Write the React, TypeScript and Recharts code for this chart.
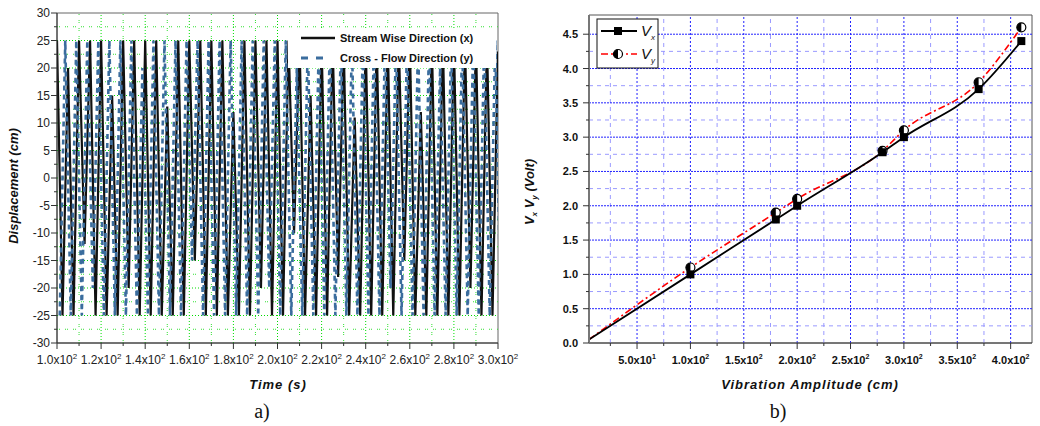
import React from "react";
import { LineChart, Line, XAxis, YAxis, ReferenceLine, ReferenceArea } from "recharts";

// ---- panel a) displacement time history (one value per half cycle) ----
const TIME_START = 100;
const TIME_END = 300;
const CROSS_OFFSET = 1.25; // cross-flow peaks sit between the stream-wise ones

const streamWise = [
  25, -25, 20, -25, 25, -12, 25, -25, 25, -25,
  15, -25, 25, -20, 25, -25, 25, -25, 25, -25,
  13, -25, 25, -25, 25, -15, 25, -25, 25, -25,
  25, -25, 12, -25, 25, -25, 25, -20, 25, -25,
  25, -25, 25, -10, 25, -25, 15, -25, 25, -25,
  25, -18, 25, -25, 11, -25, 25, -25, 25, -25,
  25, -25, 25, -15, 25, -25, 12, -25, 25, -25,
  25, -25, 25, -25, 25, -20, 25, -25, 25, -25,
  23,
];
const crossFlow = [
  -25, 25, -25, 25, -25, 25, -20, 25, -25, 25,
  -25, 25, -25, 25, -25, 20, -25, 25, -25, 25,
  -25, 25, -25, 25, -15, 25, -25, 25, -25, 25,
  -25, 25, -25, 25, -25, 25, -25, 25, -20, 25,
  -25, 25, -25, 20, -25, 25, -25, 25, -25, 25,
  -25, 25, -25, 25, -25, 25, -25, 25, -25, 25,
  -20, 25, -25, 25, -25, 25, -25, 25, -25, 20,
  -25, 25, -25, 25, -25, 25, -25, 25, -25, 25,
  -25,
];
const timeTicks = [100, 110, 120, 130, 140, 150, 160, 170, 180, 190, 200, 210, 220, 230, 240, 250, 260, 270, 280, 290, 300];
const dispTicks = [-30, -27.5, -25, -22.5, -20, -17.5, -15, -12.5, -10, -7.5, -5, -2.5, 0, 2.5, 5, 7.5, 10, 12.5, 15, 17.5, 20, 22.5, 25, 27.5, 30];

// ---- panel b) sensor voltage vs vibration amplitude ----
const amplitude = [5, 100, 180, 200, 280, 300, 370, 410];
const vx = [0.05, 1.0, 1.8, 2.0, 2.78, 3.0, 3.7, 4.4];
const vy = [0.05, 1.1, 1.9, 2.1, 2.8, 3.1, 3.8, 4.6];
const ampTicks = [25, 50, 75, 100, 125, 150, 175, 200, 225, 250, 275, 300, 325, 350, 375, 400];
const voltTicks = [0, 0.25, 0.5, 0.75, 1, 1.25, 1.5, 1.75, 2, 2.25, 2.5, 2.75, 3, 3.25, 3.5, 3.75, 4, 4.25, 4.5];

const step = (TIME_END - TIME_START) / (streamWise.length - 1);
const streamData = streamWise.map((v, i) => ({ t: TIME_START + i * step, v }));
const crossData = crossFlow.map((v, i) => ({ t: TIME_START + CROSS_OFFSET + i * step, v }));
const voltData = amplitude.map((a, i) => ({ a, vx: vx[i], vy: vy[i] }));

const SANS = "Arial, 'Liberation Sans', sans-serif";

function TimeTick({ x, y, payload }: any) {
  const v = payload.value as number;
  const major = v % 20 === 0;
  return (
    <g>
      <line x1={x} x2={x} y1={y} y2={y + (major ? 6 : 3)} stroke="#333" />
      {major && (
        <text x={x} y={y + 21} textAnchor="middle" fontSize={12} fill="#222" fontFamily={SANS}>
          {(v / 100).toFixed(1)}x10<tspan dy={-5} fontSize={8}>2</tspan>
        </text>
      )}
    </g>
  );
}

function DispTick({ x, y, payload }: any) {
  const v = payload.value as number;
  const major = v % 5 === 0;
  return (
    <g>
      <line x1={x} x2={x - (major ? 6 : 3)} y1={y} y2={y} stroke="#333" />
      {major && (
        <text x={x - 7} y={y + 4} textAnchor="end" fontSize={12} fill="#222" fontFamily={SANS}>
          {v}
        </text>
      )}
    </g>
  );
}

function AmpTick({ x, y, payload }: any) {
  const v = payload.value as number;
  const major = v % 50 === 0;
  const exp = v < 100 ? 1 : 2;
  const mant = v < 100 ? v / 10 : v / 100;
  return (
    <g>
      <line x1={x} x2={x} y1={y} y2={y + (major ? 6 : 3)} stroke="#333" />
      {major && (
        <text x={x} y={y + 21} textAnchor="middle" fontSize={11} fontWeight="bold" fill="#111" fontFamily={SANS}>
          {mant.toFixed(1)}x10<tspan dy={-5} fontSize={7}>{exp}</tspan>
        </text>
      )}
    </g>
  );
}

function VoltTick({ x, y, payload }: any) {
  const v = payload.value as number;
  const major = Math.abs(v * 2 - Math.round(v * 2)) < 1e-6;
  return (
    <g>
      <line x1={x} x2={x - (major ? 6 : 3)} y1={y} y2={y} stroke="#333" />
      {major && (
        <text x={x - 11} y={y + 4} textAnchor="end" fontSize={11} fontWeight="bold" fill="#111" fontFamily={SANS}>
          {v.toFixed(1)}
        </text>
      )}
    </g>
  );
}

function SquareDot(props: any) {
  const { cx, cy, index } = props;
  if (index === 0 || cx == null) return <g key={`s${index}`} />;
  return <rect key={`s${index}`} x={cx - 4} y={cy - 4} width={8} height={8} fill="#000" />;
}

function HalfCircleDot(props: any) {
  const { cx, cy, index } = props;
  if (index === 0 || cx == null) return <g key={`c${index}`} />;
  const r = 4.5;
  return (
    <g key={`c${index}`}>
      <circle cx={cx} cy={cy} r={r} fill="#fff" stroke="#000" strokeWidth={1.2} />
      <path d={`M${cx},${cy - r} A${r},${r} 0 0,0 ${cx},${cy + r} Z`} fill="#000" />
    </g>
  );
}

const isHalf = (v: number) => Math.abs(v * 2 - Math.round(v * 2)) < 1e-6;

export default function App() {
  return (
    <div style={{ position: "absolute", left: 0, top: 0, width: 1040, height: 426, background: "#fff", fontFamily: SANS }}>
      {/* a) */}
      <div style={{ position: "absolute", left: 0, top: 0 }}>
        <LineChart width={520} height={426} margin={{ top: 13, right: 22, bottom: 0, left: 0 }}>
          <XAxis
            type="number"
            dataKey="t"
            domain={[TIME_START, TIME_END]}
            allowDataOverflow
            ticks={timeTicks}
            interval={0}
            tickSize={0}
            tickMargin={0}
            tick={<TimeTick />}
            height={83}
            stroke="#333"
          />
          <YAxis
            type="number"
            domain={[-30, 30]}
            ticks={dispTicks}
            interval={0}
            tickSize={0}
            tickMargin={0}
            tick={<DispTick />}
            width={57}
            stroke="#333"
          />
          {timeTicks.slice(1, -1).map((t) => (
            <ReferenceLine
              key={`gx${t}`}
              x={t}
              stroke={t % 20 === 0 ? "#00dd00" : "#33e033"}
              strokeDasharray={t % 20 === 0 ? "1 2" : "1 1 1 5"}
            />
          ))}
          {dispTicks.slice(1, -1).map((d) => (
            <ReferenceLine
              key={`gy${d}`}
              y={d}
              stroke={d % 5 === 0 ? "#00dd00" : "#33e033"}
              strokeDasharray={d % 5 === 0 ? "1 2" : "1 1 1 5"}
            />
          ))}
          <Line
            data={streamData}
            dataKey="v"
            type="linear"
            stroke="#111"
            strokeWidth={2.2}
            dot={false}
            isAnimationActive={false}
          />
          <Line
            data={crossData}
            dataKey="v"
            type="linear"
            stroke="#3b6d9e"
            strokeWidth={2.6}
            strokeDasharray="5 4"
            dot={false}
            isAnimationActive={false}
          />
          <ReferenceArea x1={TIME_START} x2={TIME_END} y1={-30} y2={30} fill="none" stroke="#666" />
        </LineChart>
      </div>

      {/* b) */}
      <div style={{ position: "absolute", left: 520, top: 0 }}>
        <LineChart width={520} height={426} data={voltData} margin={{ top: 15, right: 8, bottom: 0, left: 0 }}>
          <XAxis
            type="number"
            dataKey="a"
            domain={[5, 420]}
            allowDataOverflow
            ticks={ampTicks}
            interval={0}
            tickSize={0}
            tickMargin={0}
            tick={<AmpTick />}
            height={83}
            stroke="#444"
          />
          <YAxis
            type="number"
            domain={[0, 4.78]}
            allowDataOverflow
            ticks={voltTicks}
            interval={0}
            tickSize={0}
            tickMargin={0}
            tick={<VoltTick />}
            width={69}
            stroke="#777"
            strokeWidth={2}
          />
          {ampTicks.map((a) => (
            <ReferenceLine
              key={`bx${a}`}
              x={a}
              stroke={a % 50 === 0 ? "#2222ff" : "#9a9aff"}
              strokeDasharray={a % 50 === 0 ? "2 2" : "4 4"}
            />
          ))}
          {voltTicks.slice(1).map((v) => (
            <ReferenceLine
              key={`by${v}`}
              y={v}
              stroke={isHalf(v) ? "#2222ff" : "#9a9aff"}
              strokeDasharray={isHalf(v) ? "2 1" : "4 4"}
            />
          ))}
          <Line
            dataKey="vy"
            type="monotone"
            stroke="#ff0000"
            strokeWidth={1.6}
            strokeDasharray="7 3 2 3"
            dot={<HalfCircleDot />}
            isAnimationActive={false}
          />
          <Line
            dataKey="vx"
            type="monotone"
            stroke="#000"
            strokeWidth={1.8}
            dot={<SquareDot />}
            isAnimationActive={false}
          />
          <ReferenceArea x1={5} x2={420} y1={0} y2={4.78} fill="none" stroke="#555" />
        </LineChart>
      </div>

      {/* titles and legends */}
      <svg width={1040} height={426} style={{ position: "absolute", left: 0, top: 0, pointerEvents: "none" }}>
        <g fontFamily={SANS}>
          <rect x={288} y={28} width={208} height={40} fill="#fff" />
          <line x1={301} x2={335} y1={38} y2={38} stroke="#111" strokeWidth={2.5} />
          <text x={340} y={42} fontSize={11} fontWeight="bold" fill="#111">Stream Wise Direction (x)</text>
          <line x1={301} x2={325} y1={58} y2={58} stroke="#3b6d9e" strokeWidth={3} strokeDasharray="7 8" />
          <text x={340} y={62} fontSize={11} fontWeight="bold" fill="#111">Cross - Flow Direction (y)</text>

          <text transform="translate(18,186) rotate(-90)" textAnchor="middle" fontSize={13} fontWeight="bold" fontStyle="italic" fill="#111">
            Displacement (cm)
          </text>
          <text x={278} y={389} textAnchor="middle" fontSize={13} fontWeight="bold" fontStyle="italic" letterSpacing={1} fill="#111">
            Time (s)
          </text>
          <text x={262} y={418} textAnchor="middle" fontSize={20} fontFamily="'Liberation Serif', 'Times New Roman', serif" fill="#111">
            a)
          </text>

          <rect x={597} y={19} width={61} height={49} fill="#fff" stroke="#111" />
          <line x1={601} x2={637} y1={31} y2={31} stroke="#000" strokeWidth={1.8} />
          <rect x={614} y={27} width={8} height={8} fill="#000" />
          <text x={641} y={36} fontSize={15} fontStyle="italic" fill="#111">V<tspan dy={4} fontSize={8}>x</tspan></text>
          <line x1={601} x2={637} y1={54} y2={54} stroke="#ff0000" strokeWidth={1.6} strokeDasharray="7 3 2 3" />
          <circle cx={618} cy={54} r={4.5} fill="#fff" stroke="#000" strokeWidth={1.2} />
          <path d="M618,49.5 A4.5,4.5 0 0,0 618,58.5 Z" fill="#000" />
          <text x={641} y={59} fontSize={15} fontStyle="italic" fill="#111">V<tspan dy={4} fontSize={8}>y</tspan></text>

          <text transform="translate(534,192) rotate(-90)" textAnchor="middle" fontSize={13} fontWeight="bold" fontStyle="italic" fill="#111">
            V<tspan dy={3} fontSize={8}>x</tspan><tspan dy={-3}> V</tspan><tspan dy={3} fontSize={8}>y</tspan><tspan dy={-3}> (Volt)</tspan>
          </text>
          <text x={810} y={389} textAnchor="middle" fontSize={13} fontWeight="bold" fontStyle="italic" letterSpacing={1} fill="#111">
            Vibration Amplitude (cm)
          </text>
          <text x={778} y={418} textAnchor="middle" fontSize={20} fontFamily="'Liberation Serif', 'Times New Roman', serif" fill="#111">
            b)
          </text>
        </g>
      </svg>
    </div>
  );
}
